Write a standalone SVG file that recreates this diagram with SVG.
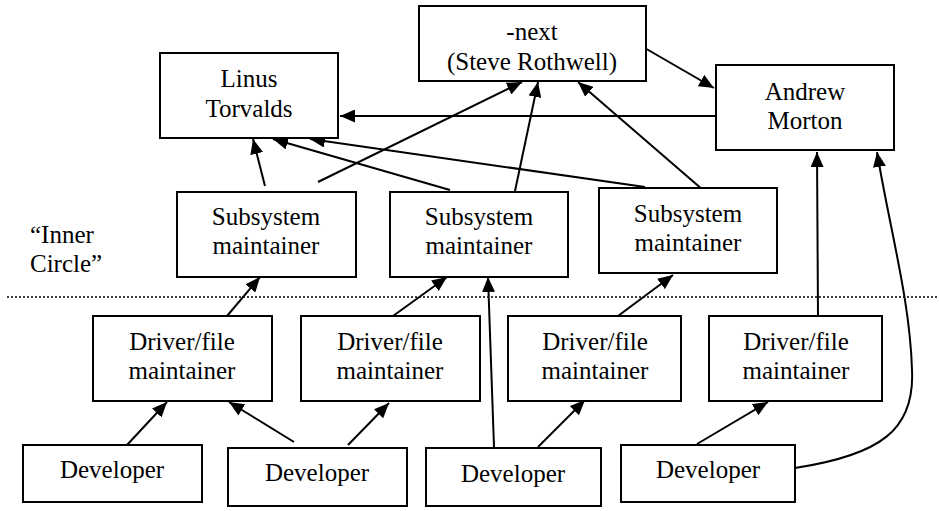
<svg xmlns="http://www.w3.org/2000/svg" width="939" height="511" viewBox="0 0 939 511">
<defs>
<marker id="ah" markerUnits="userSpaceOnUse" markerWidth="16" markerHeight="13" refX="15" refY="6.5" orient="auto">
<path d="M0,0 L15,6.5 L0,13 z" fill="#000"/>
</marker>
<style>
.box{fill:#fff;stroke:#000;stroke-width:2}
text{font-family:'Liberation Serif','Times New Roman',Times,serif;font-size:25px;fill:#000}
.t{text-anchor:middle}
.c{fill:none;stroke:#000;stroke-width:2;marker-end:url(#ah)}
</style>
</defs>
<rect width="939" height="511" fill="#fff"/>
<line x1="7" y1="297" x2="939" y2="297" stroke="#000" stroke-width="1.5" stroke-dasharray="2,2"/>
<g id="inner-circle-label">
<text x="30" y="243">“Inner</text>
<text x="30" y="272">Circle”</text>
</g>
<g id="connectors">
<line class="c" x1="265" y1="186" x2="253" y2="139"/>
<line class="c" x1="318" y1="182" x2="522" y2="82"/>
<line class="c" x1="450" y1="190" x2="273" y2="139"/>
<line class="c" x1="515" y1="191" x2="538" y2="82"/>
<line class="c" x1="645" y1="187" x2="310" y2="139"/>
<line class="c" x1="703" y1="190" x2="578" y2="82"/>
<line class="c" x1="643" y1="47" x2="714" y2="88"/>
<line class="c" x1="716" y1="116" x2="340" y2="116"/>
<line class="c" x1="818" y1="316" x2="817" y2="152"/>
<path class="c" d="M795,468 C880,455 915,430 912,370 C910,300 890,230 877,152"/>
<line class="c" x1="227" y1="316" x2="260" y2="277"/>
<line class="c" x1="393" y1="316" x2="447" y2="277"/>
<line class="c" x1="618" y1="316" x2="673" y2="275"/>
<line class="c" x1="494" y1="447" x2="488" y2="277"/>
<line class="c" x1="127" y1="445" x2="167" y2="402"/>
<line class="c" x1="294" y1="442" x2="229" y2="402"/>
<line class="c" x1="348" y1="445" x2="389" y2="403"/>
<line class="c" x1="538" y1="447" x2="585" y2="400"/>
<line class="c" x1="697" y1="444" x2="768" y2="402"/>
</g>
<g id="linus"><rect class="box" x="160" y="53" width="178" height="85"/><text class="t" x="249" y="87">Linus</text><text class="t" x="249" y="117">Torvalds</text></g>
<g id="next"><rect class="box" x="419" y="6" width="227" height="75"/><text class="t" x="532" y="40">-next</text><text class="t" x="532" y="70">(Steve Rothwell)</text></g>
<g id="andrew"><rect class="box" x="716" y="65" width="178" height="85"/><text class="t" x="805" y="100">Andrew</text><text class="t" x="805" y="129">Morton</text></g>
<g id="sub1"><rect class="box" x="177" y="192" width="179" height="85"/><text class="t" x="266" y="225">Subsystem</text><text class="t" x="266" y="254">maintainer</text></g>
<g id="sub2"><rect class="box" x="390" y="192" width="178" height="85"/><text class="t" x="479" y="225">Subsystem</text><text class="t" x="479" y="254">maintainer</text></g>
<g id="sub3"><rect class="box" x="599" y="188" width="178" height="85"/><text class="t" x="688" y="222">Subsystem</text><text class="t" x="688" y="251">maintainer</text></g>
<g id="drv1"><rect class="box" x="93" y="316" width="179" height="85"/><text class="t" x="182" y="350">Driver/file</text><text class="t" x="182" y="379">maintainer</text></g>
<g id="drv2"><rect class="box" x="301" y="316" width="179" height="85"/><text class="t" x="390" y="350">Driver/file</text><text class="t" x="390" y="379">maintainer</text></g>
<g id="drv3"><rect class="box" x="508" y="316" width="173" height="85"/><text class="t" x="595" y="350">Driver/file</text><text class="t" x="595" y="379">maintainer</text></g>
<g id="drv4"><rect class="box" x="709" y="316" width="173" height="85"/><text class="t" x="796" y="350">Driver/file</text><text class="t" x="796" y="379">maintainer</text></g>
<g id="dev1"><rect class="box" x="23" y="445" width="179" height="57"/><text class="t" x="112" y="478">Developer</text></g>
<g id="dev2"><rect class="box" x="228" y="448" width="179" height="58"/><text class="t" x="317" y="481">Developer</text></g>
<g id="dev3"><rect class="box" x="426" y="448" width="175" height="58"/><text class="t" x="513" y="482">Developer</text></g>
<g id="dev4"><rect class="box" x="621" y="445" width="174" height="57"/><text class="t" x="708" y="478">Developer</text></g>
</svg>
